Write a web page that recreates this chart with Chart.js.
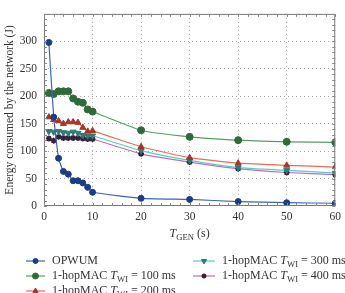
<!DOCTYPE html>
<html>
<head>
<meta charset="utf-8">
<script src="https://cdn.jsdelivr.net/npm/chart.js@4/dist/chart.umd.min.js"></script>
<style>
  html, body { margin: 0; padding: 0; background: #fff; }
  #wrap { position: relative; width: 345px; height: 293px; }
</style>
</head>
<body>
<div id="wrap"><canvas id="chart" width="345" height="293"></canvas></div>
<script>
const tGen = [1, 2, 3, 4, 5, 6, 7, 8, 9, 10, 20, 30, 40, 50, 60];
const opwum = [298, 162, 87, 63, 58, 46, 46, 42, 34, 25, 14, 12, 8, 6, 5];
const mac100 = [206, 204, 209, 209, 209, 196, 190, 188, 176, 172, 138, 126, 120, 117, 116];
const mac200 = [162, 157, 155, 150, 153, 153, 152, 143, 136, 137, 108, 88, 78, 74, 71];
const mac300 = [136, 135, 136, 134, 133, 135, 133, 129, 128, 128, 101, 83, 70, 65, 60];
const mac400 = [123, 119, 126, 124, 124, 124, 124, 123, 122, 122, 95, 80, 68, 61, 57];

const xTicks = [0, 10, 20, 30, 40, 50, 60];
const yTicks = [0, 50, 100, 150, 200, 250, 300];
const twiValues = [null, "100", "200", "300", "400"];

const SERIF = '"Liberation Serif", "DejaVu Serif", serif';

const series = [
  { label: "OPWUM", data: opwum, line: "#3d64b8", fill: "#1e3c80", style: "circle", radius: 3, rot: 0 },
  { label: "1-hopMAC TWI = 100 ms", data: mac100, line: "#55a060", fill: "#2f6b38", style: "circle", radius: 3.5, rot: 0 },
  { label: "1-hopMAC TWI = 200 ms", data: mac200, line: "#ee6a50", fill: "#a8342a", style: "triangle", radius: 3.5, rot: 0 },
  { label: "1-hopMAC TWI = 300 ms", data: mac300, line: "#5ccbc0", fill: "#2d7c78", style: "triangle", radius: 3.5, rot: 180 },
  { label: "1-hopMAC TWI = 400 ms", data: mac400, line: "#b571c8", fill: "#3a1e3c", style: "star", radius: 3, rot: 0 },
];

function drawRich(ctx, x, y, parts, size) {
  ctx.textBaseline = "middle";
  ctx.textAlign = "left";
  parts.forEach(([text, kind]) => {
    let dy = 0;
    if (kind === "i") ctx.font = `italic ${size}px ${SERIF}`;
    else if (kind === "s") { ctx.font = `${size * 0.72}px ${SERIF}`; dy = size * 0.28; }
    else ctx.font = `${size}px ${SERIF}`;
    ctx.fillText(text, x, y + dy);
    x += ctx.measureText(text).width;
  });
  return x;
}

const decorPlugin = {
  id: "decor",
  afterDatasetsDraw(chart) {
    const { ctx, chartArea: a, scales } = chart;
    ctx.save();
    // frame
    ctx.strokeStyle = "#777";
    ctx.lineWidth = 1;
    ctx.strokeRect(a.left + 0.5, a.top + 0.5, a.right - a.left - 1, a.bottom - a.top - 1);
    // minor ticks
    ctx.strokeStyle = "#888";
    ctx.beginPath();
    for (let v = 0; v <= 60; v += 2) {
      const px = Math.round(scales.x.getPixelForValue(v)) + 0.5;
      ctx.moveTo(px, a.bottom); ctx.lineTo(px, a.bottom - 3);
      ctx.moveTo(px, a.top); ctx.lineTo(px, a.top + 3);
    }
    for (let v = 0; v <= 350; v += 10) {
      const py = Math.round(scales.y.getPixelForValue(v)) + 0.5;
      ctx.moveTo(a.left, py); ctx.lineTo(a.left + 3, py);
      ctx.moveTo(a.right, py); ctx.lineTo(a.right - 3, py);
    }
    ctx.stroke();
    ctx.restore();
  },
  afterDraw(chart) {
    const { ctx, chartArea: a } = chart;
    ctx.save();
    ctx.fillStyle = "#333";
    // x axis title
    const size = 12;
    const parts = [["T", "i"], ["GEN", "s"], [" (s)", "n"]];
    let w = 0;
    parts.forEach(([t, k]) => {
      ctx.font = k === "i" ? `italic ${size}px ${SERIF}` : k === "s" ? `${size * 0.72}px ${SERIF}` : `${size}px ${SERIF}`;
      w += ctx.measureText(t).width;
    });
    drawRich(ctx, (a.left + a.right) / 2 - w / 2, 234, parts, size);

    // legend
    const cols = [{ x: 26, len: 19 }, { x: 193, len: 22 }];
    const rows = [261, 276, 291];
    series.forEach((s, i) => {
      const col = cols[i < 3 ? 0 : 1];
      const y = rows[i < 3 ? i : i - 3];
      ctx.strokeStyle = s.line;
      ctx.lineWidth = 1.2;
      ctx.beginPath();
      ctx.moveTo(col.x, y);
      ctx.lineTo(col.x + col.len, y);
      ctx.stroke();
      ctx.fillStyle = s.fill;
      ctx.strokeStyle = s.fill;
      ctx.lineWidth = s.style === "star" ? 1.6 : 1;
      Chart.helpers.drawPoint(ctx, { pointStyle: s.style, radius: s.radius - 0.5, rotation: s.rot, borderWidth: ctx.lineWidth }, col.x + col.len / 2, y);
      ctx.fillStyle = "#333";
      const tx = col.x + col.len + 7;
      if (twiValues[i]) {
        drawRich(ctx, tx, y, [["1-hopMAC ", "n"], ["T", "i"], ["WI", "s"], [" = " + twiValues[i] + " ms", "n"]], 12);
      } else {
        drawRich(ctx, tx, y, [[s.label, "n"]], 12);
      }
    });
    ctx.restore();
  },
};

new Chart(document.getElementById("chart"), {
  type: "line",
  data: {
    labels: tGen,
    datasets: series.map((s) => ({
      label: s.label,
      data: tGen.map((x, i) => ({ x, y: s.data[i] })),
      borderColor: s.line,
      borderWidth: 1.2,
      pointStyle: s.style,
      pointRadius: s.radius,
      pointRotation: s.rot,
      pointBackgroundColor: s.fill,
      pointBorderColor: s.fill,
      pointBorderWidth: s.style === "star" ? 1.6 : 1,
      tension: 0.15,
    })),
  },
  options: {
    responsive: false,
    animation: false,
    layout: { padding: { top: 5, right: 6, left: 0, bottom: 0 } },
    plugins: { legend: { display: false }, tooltip: { enabled: false } },
    scales: {
      x: {
        type: "linear",
        min: 0,
        max: 60,
        afterFit: (s) => { s.height = 87; },
        afterBuildTicks: (s) => { s.ticks = xTicks.map((v) => ({ value: v })); },
        ticks: { color: "#333", font: { family: SERIF, size: 11.5 }, padding: 4, maxRotation: 0 },
        grid: {
          color: (c) => (c.tick && (c.tick.value === 0 || c.tick.value === 60) ? "transparent" : "#aaa"),
          drawTicks: false,
        },
        border: { display: false, dash: [1, 3] },
      },
      y: {
        min: 0,
        max: 350,
        afterFit: (s) => { s.width = 44; },
        afterBuildTicks: (s) => { s.ticks = yTicks.map((v) => ({ value: v })); },
        ticks: { color: "#333", font: { family: SERIF, size: 11.5 }, padding: 7 },
        grid: {
          color: (c) => (c.tick && c.tick.value === 0 ? "transparent" : "#aaa"),
          drawTicks: false,
        },
        border: { display: false, dash: [1, 3] },
        title: {
          display: true,
          text: "Energy consumed by the network (J)",
          color: "#333",
          font: { family: SERIF, size: 11.5 },
          padding: { top: 3, bottom: 0 },
        },
      },
    },
  },
  plugins: [decorPlugin],
});
</script>
</body>
</html>
